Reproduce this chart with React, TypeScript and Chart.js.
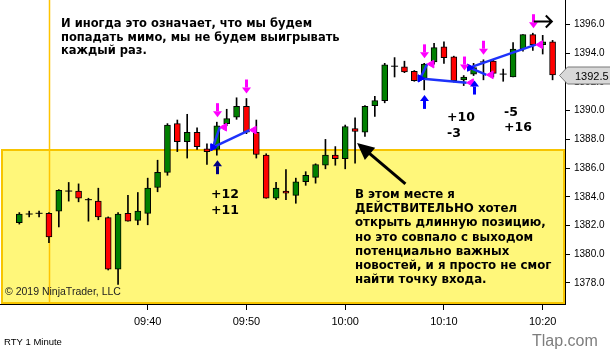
import React, { useEffect, useRef } from "react";
import { Chart, registerables } from "chart.js";

Chart.register(...registerables);

// ---------- data ----------
const candleTimes = [
  "09:27", "09:28", "09:29", "09:30", "09:31", "09:32", "09:33", "09:34", "09:35", "09:36",
  "09:37", "09:38", "09:39", "09:40", "09:41", "09:42", "09:43", "09:44", "09:45", "09:46",
  "09:47", "09:48", "09:49", "09:50", "09:51", "09:52", "09:53", "09:54", "09:55", "09:56",
  "09:57", "09:58", "09:59", "10:00", "10:01", "10:02", "10:03", "10:04", "10:05", "10:06",
  "10:07", "10:08", "10:09", "10:10", "10:11", "10:12", "10:13", "10:14", "10:15", "10:16",
  "10:17", "10:18", "10:19", "10:20", "10:21",
];
const opens = [
  1382.2, 1382.8, 1382.85, 1382.85, 1383.0, 1384.4, 1384.4, 1383.8, 1383.7, 1382.55,
  1378.95, 1382.85, 1382.35, 1382.85, 1384.65, 1385.7, 1389.1, 1387.85, 1388.5, 1387.35,
  1387.3, 1389.1, 1389.55, 1390.3, 1388.5, 1386.9, 1383.9, 1384.4, 1384.1, 1385.05,
  1385.35, 1386.2, 1386.9, 1386.65, 1388.75, 1388.5, 1390.35, 1390.7, 1393.1, 1393.05,
  1392.75, 1392.25, 1393.4, 1394.45, 1393.75, 1392.15, 1392.55, 1393.4, 1393.45, 1392.55,
  1392.35, 1394.3, 1395.3, 1394.6, 1394.8,
];
const highs = [
  1382.9, 1383.0, 1383.0, 1382.9, 1384.5, 1385.0, 1384.9, 1383.9, 1384.6, 1382.6,
  1382.9, 1384.1, 1384.3, 1385.3, 1386.55, 1389.1, 1389.35, 1389.75, 1388.8, 1387.7,
  1389.2, 1390.1, 1390.9, 1390.85, 1389.35, 1387.0, 1385.0, 1385.9, 1385.3, 1385.75,
  1386.3, 1388.0, 1387.5, 1389.0, 1389.5, 1390.35, 1391.0, 1393.3, 1393.7, 1393.45,
  1392.8, 1393.3, 1394.7, 1394.8, 1393.8, 1392.45, 1393.3, 1393.55, 1393.55, 1392.9,
  1394.75, 1395.3, 1395.4, 1395.25, 1394.9,
];
const lows = [
  1382.1, 1382.6, 1382.6, 1380.8, 1381.9, 1383.7, 1383.65, 1382.3, 1382.4, 1378.9,
  1377.9, 1382.3, 1382.05, 1382.05, 1384.35, 1385.5, 1387.15, 1386.7, 1387.3, 1386.25,
  1386.9, 1388.95, 1389.4, 1388.4, 1386.7, 1383.9, 1383.8, 1383.8, 1383.55, 1384.8,
  1384.95, 1385.95, 1386.2, 1385.95, 1386.35, 1388.2, 1389.6, 1390.55, 1392.35, 1392.65,
  1392.05, 1391.45, 1393.25, 1393.3, 1392.0, 1391.75, 1392.45, 1392.15, 1392.35, 1392.05,
  1392.35, 1394.15, 1394.2, 1393.95, 1392.15,
];
const closes = [
  1382.8, 1382.8, 1382.85, 1381.2, 1384.45, 1384.4, 1383.9, 1383.8, 1382.6, 1378.95,
  1382.8, 1382.3, 1383.0, 1384.6, 1385.7, 1389.0, 1387.85, 1388.5, 1387.5, 1387.15,
  1388.95, 1389.45, 1390.3, 1388.5, 1386.95, 1383.9, 1384.6, 1384.25, 1385.05, 1385.5,
  1386.25, 1386.9, 1386.65, 1388.9, 1388.55, 1390.3, 1390.7, 1393.2, 1393.1, 1392.7,
  1392.1, 1393.25, 1394.4, 1393.7, 1392.1, 1392.35, 1393.0, 1393.4, 1392.6, 1392.55,
  1394.3, 1395.3, 1394.6, 1394.8, 1392.5,
];

const yTickValues = [1378, 1380, 1382, 1384, 1386, 1388, 1390, 1392, 1394, 1396];
const xTickLabels = ["09:40", "09:50", "10:00", "10:10", "10:20"];
const sessionOpenTime = "09:30";
const zoneTopPrice = 1387.25;
const lastPrice = 1392.5;

const sellArrowTimes = ["09:47", "09:50", "10:08", "10:12", "10:14", "10:19"];
const buyArrowTimes = ["09:47", "10:08", "10:13"];

const tradeEntryTimes = ["09:47", "09:47", "10:08", "10:08", "10:13", "10:13"];
const tradeEntryPrices = [1387.45, 1387.45, 1392.25, 1392.25, 1393.0, 1393.0];
const tradeExitTimes = ["09:47", "09:50", "10:08", "10:12", "10:14", "10:19"];
const tradeExitPrices = [1388.85, 1388.65, 1393.25, 1391.95, 1392.5, 1394.6];

const pointerTail = { time: 66.1, price: 1384.9 };
const pointerTip = { time: 61.2, price: 1387.75 };

const titleLines = [
  "И иногда это означает, что мы будем",
  "попадать мимо, мы не будем выигрывать",
  "каждый раз.",
];
const noteLines = [
  "В этом месте я",
  "ДЕЙСТВИТЕЛЬНО хотел",
  "открыть длинную позицию,",
  "но это совпало с выходом",
  "потенциально важных",
  "новостей, и я просто не смог",
  "найти точку входа.",
];
const resultLabels = [
  { text: "+12", x: 211, y: 198 },
  { text: "+11", x: 211, y: 214 },
  { text: "+10", x: 447, y: 121 },
  { text: "-3", x: 447, y: 137 },
  { text: "-5", x: 504, y: 116 },
  { text: "+16", x: 504, y: 131 },
];

// ---------- helpers ----------
const toMin = (s: string) => {
  const [h, m] = s.split(":").map(Number);
  return h * 60 + m - 540;
};
const fmtMin = (v: number) => {
  const t = Math.round(v) + 540;
  const h = Math.floor(t / 60);
  const m = t % 60;
  return `${String(h).padStart(2, "0")}:${String(m).padStart(2, "0")}`;
};
const idxOf = (t: string) => candleTimes.indexOf(t);

const GREEN = "rgb(0,128,0)";
const RED = "rgb(255,0,0)";
const MAGENTA = "rgb(255,0,255)";
const BLUE = "rgb(0,0,255)";
const NAVY = "rgb(0,0,128)";
const TRADE_LINE = "rgb(30,50,250)";

const isDoji = (i: number) => Math.abs(opens[i] - closes[i]) < 0.001;

function drawDownArrow(ctx: CanvasRenderingContext2D, cx: number, tipY: number, color: string) {
  const y0 = tipY - 14;
  ctx.fillStyle = color;
  ctx.fillRect(cx - 1.5, y0, 3, 8);
  ctx.beginPath();
  ctx.moveTo(cx - 4.5, y0 + 8);
  ctx.lineTo(cx + 4.5, y0 + 8);
  ctx.lineTo(cx, tipY);
  ctx.closePath();
  ctx.fill();
}
function drawUpArrow(ctx: CanvasRenderingContext2D, cx: number, tipY: number, color: string) {
  ctx.fillStyle = color;
  ctx.beginPath();
  ctx.moveTo(cx, tipY);
  ctx.lineTo(cx + 4.5, tipY + 6);
  ctx.lineTo(cx - 4.5, tipY + 6);
  ctx.closePath();
  ctx.fill();
  ctx.fillRect(cx - 1.5, tipY + 6, 3, 8);
}

const annotationPlugin = {
  id: "tradeAnnotations",
  beforeDatasetsDraw(chart: any) {
    const { ctx, chartArea: ca, scales } = chart;
    const x = scales.x;
    const y = scales.y;
    ctx.save();
    const top = Math.round(y.getPixelForValue(zoneTopPrice));
    ctx.fillStyle = "rgb(255,247,122)";
    ctx.fillRect(ca.left + 2, top, ca.right - ca.left - 3, ca.bottom - top - 1);
    ctx.strokeStyle = "rgb(247,196,0)";
    ctx.lineWidth = 2;
    ctx.strokeRect(ca.left + 2, top, ca.right - ca.left - 3, ca.bottom - top - 1);
    const sx = Math.round(x.getPixelForValue(toMin(sessionOpenTime))) + 0.5;
    ctx.strokeStyle = "rgb(255,196,0)";
    ctx.lineWidth = 1.5;
    ctx.beginPath();
    ctx.moveTo(sx, ca.top);
    ctx.lineTo(sx, ca.bottom - 1);
    ctx.stroke();
    ctx.restore();
  },
  afterDraw(chart: any) {
    const { ctx, chartArea: ca, scales } = chart;
    const x = scales.x;
    const y = scales.y;
    ctx.save();

    // signal arrows
    sellArrowTimes.forEach((t) => {
      const i = idxOf(t);
      const cx = Math.round(x.getPixelForValue(toMin(t))) + 0.5;
      drawDownArrow(ctx, cx, y.getPixelForValue(highs[i]) - 5, MAGENTA);
    });
    buyArrowTimes.forEach((t, k) => {
      const i = idxOf(t);
      const cx = Math.round(x.getPixelForValue(toMin(t))) + 0.5;
      drawUpArrow(ctx, cx, y.getPixelForValue(lows[i]) + 5, k === 0 ? NAVY : BLUE);
    });

    // texts
    ctx.fillStyle = "#000";
    ctx.textBaseline = "alphabetic";
    ctx.textAlign = "left";
    ctx.font = 'bold 11.5px "DejaVu Sans"';
    titleLines.forEach((l, k) => ctx.fillText(l, 61, 27 + k * 13.7));
    ctx.font = 'bold 11.8px "DejaVu Sans"';
    noteLines.forEach((l, k) => ctx.fillText(l, 355, 197.7 + k * 14.27));
    ctx.font = 'bold 12.5px "DejaVu Sans"';
    resultLabels.forEach((r) => ctx.fillText(r.text, r.x, r.y));

    // pointer arrow
    const tx = x.getPixelForValue(pointerTip.time);
    const ty = y.getPixelForValue(pointerTip.price);
    const bx = x.getPixelForValue(pointerTail.time);
    const by = y.getPixelForValue(pointerTail.price);
    const ang = Math.atan2(by - ty, bx - tx);
    const hl = 17;
    const hw = 8;
    ctx.strokeStyle = "#000";
    ctx.lineWidth = 3;
    ctx.beginPath();
    ctx.moveTo(bx, by);
    ctx.lineTo(tx + Math.cos(ang) * (hl - 2), ty + Math.sin(ang) * (hl - 2));
    ctx.stroke();
    ctx.fillStyle = "#000";
    ctx.beginPath();
    ctx.moveTo(tx, ty);
    ctx.lineTo(tx + Math.cos(ang) * hl - Math.sin(ang) * hw, ty + Math.sin(ang) * hl + Math.cos(ang) * hw);
    ctx.lineTo(tx + Math.cos(ang) * hl + Math.sin(ang) * hw, ty + Math.sin(ang) * hl - Math.cos(ang) * hw);
    ctx.closePath();
    ctx.fill();

    // small right arrow at top right
    const ax0 = x.getPixelForValue(toMin("10:19") + 0.1);
    const ax1 = ax0 + 18;
    const ay = 21.5;
    ctx.lineWidth = 2;
    ctx.beginPath();
    ctx.moveTo(ax0, ay);
    ctx.lineTo(ax1, ay);
    ctx.moveTo(ax1 - 6, ay - 6);
    ctx.lineTo(ax1, ay);
    ctx.lineTo(ax1 - 6, ay + 6);
    ctx.stroke();

    // copyright
    ctx.font = '10.5px "Liberation Sans"';
    ctx.fillStyle = "#222";
    ctx.fillText("© 2019 NinjaTrader, LLC", 5, 294.5);

    // last price marker
    const py = Math.round(y.getPixelForValue(lastPrice)) + 0.5;
    ctx.beginPath();
    ctx.moveTo(ca.right - 5.5, py);
    ctx.lineTo(ca.right + 2.5, py - 8.5);
    ctx.lineTo(chart.width + 1, py - 8.5);
    ctx.lineTo(chart.width + 1, py + 8.5);
    ctx.lineTo(ca.right + 2.5, py + 8.5);
    ctx.closePath();
    ctx.fillStyle = "rgb(216,216,216)";
    ctx.fill();
    ctx.strokeStyle = "rgb(120,120,120)";
    ctx.lineWidth = 1;
    ctx.stroke();
    ctx.fillStyle = "#000";
    ctx.font = '11px "Liberation Sans"';
    ctx.fillText(lastPrice.toFixed(1), 575, py + 4);

    // footer texts
    ctx.font = '9.5px "Liberation Sans"';
    ctx.fillStyle = "#000";
    ctx.fillText("RTY 1 Minute", 4, 344.5);
    ctx.font = '16px "Liberation Sans"';
    ctx.fillStyle = "rgb(125,125,125)";
    ctx.fillText("Tlap.com", 532, 346);

    ctx.restore();
  },
};

export default function App() {
  const ref = useRef<HTMLCanvasElement | null>(null);

  useEffect(() => {
    const canvas = ref.current;
    if (!canvas) return;

    const idx = candleTimes.map((_, i) => i);
    const bodyIdx = idx.filter((i) => !isDoji(i));
    const dojiIdx = idx.filter((i) => isDoji(i));

    const tradeLineSets = tradeEntryTimes.map((t, k) => ({
      type: "line" as const,
      data: [
        { x: toMin(t) - 0.4, y: tradeEntryPrices[k] },
        { x: toMin(tradeExitTimes[k]) + 0.3, y: tradeExitPrices[k] },
      ],
      borderColor: TRADE_LINE,
      borderWidth: 2.5,
      pointRadius: 0,
      fill: false,
      order: 1,
    }));

    const chart = new Chart(canvas, {
      type: "bar",
      data: {
        datasets: [
          {
            type: "bar",
            data: bodyIdx.map((i) => ({ x: toMin(candleTimes[i]), y: [opens[i], closes[i]] })),
            backgroundColor: bodyIdx.map((i) => (closes[i] > opens[i] ? GREEN : RED)),
            borderColor: "#000",
            borderWidth: 1,
            borderSkipped: false,
            barThickness: 6,
            grouped: false,
            order: 2,
          } as any,
          {
            type: "scatter",
            data: dojiIdx.map((i) => ({ x: toMin(candleTimes[i]), y: opens[i] })),
            pointStyle: "line",
            pointRadius: 3.5,
            borderColor: "#000",
            borderWidth: 1,
            order: 2,
          } as any,
          {
            type: "bar",
            data: idx.map((i) => ({ x: toMin(candleTimes[i]), y: [lows[i], highs[i]] })),
            backgroundColor: "#000",
            borderWidth: 0,
            barThickness: 1,
            grouped: false,
            order: 3,
          } as any,
          ...tradeLineSets,
          {
            type: "scatter",
            data: tradeEntryTimes.map((t, k) => ({ x: toMin(t) - 0.4, y: tradeEntryPrices[k] })),
            pointStyle: "triangle",
            rotation: 90,
            pointRadius: 4,
            backgroundColor: BLUE,
            borderColor: BLUE,
            borderWidth: 1,
            order: 0,
          } as any,
          {
            type: "scatter",
            data: tradeExitTimes.map((t, k) => ({ x: toMin(t) + 0.75, y: tradeExitPrices[k] })),
            pointStyle: "triangle",
            rotation: -90,
            pointRadius: 4.5,
            backgroundColor: MAGENTA,
            borderColor: MAGENTA,
            borderWidth: 1,
            order: 0,
          } as any,
        ],
      },
      options: {
        responsive: false,
        devicePixelRatio: 1,
        animation: false,
        events: [],
        layout: { padding: 0, autoPadding: false },
        plugins: {
          legend: { display: false },
          tooltip: { enabled: false },
        },
        scales: {
          x: {
            type: "linear",
            min: 25.043,
            max: 82.258,
            offset: false,
            afterBuildTicks: (s: any) => {
              s.ticks = xTickLabels.map((l) => ({ value: toMin(l) }));
            },
            afterFit: (s: any) => {
              s.height = 47;
              s.paddingLeft = 0;
              s.paddingRight = 0;
              s.paddingTop = 0;
              s.paddingBottom = 0;
            },
            ticks: {
              callback: (v: any) => fmtMin(Number(v)),
              font: { family: "Liberation Sans", size: 11 },
              color: "#000",
              maxRotation: 0,
              autoSkip: false,
              padding: 5,
            },
            grid: {
              display: true,
              drawOnChartArea: false,
              drawTicks: true,
              tickLength: 6,
              color: "#000",
              offset: false,
            },
            border: { display: true, color: "#000", width: 1 },
          },
          y: {
            type: "linear",
            position: "right",
            min: 1376.53,
            max: 1397.714,
            afterBuildTicks: (s: any) => {
              s.ticks = yTickValues.map((v) => ({ value: v }));
            },
            afterFit: (s: any) => {
              s.width = 45;
              s.paddingLeft = 0;
              s.paddingRight = 0;
              s.paddingTop = 0;
              s.paddingBottom = 0;
            },
            ticks: {
              callback: (v: any) => Number(v).toFixed(1),
              font: { family: "Liberation Sans", size: 10 },
              color: "#000",
              padding: 4,
              autoSkip: false,
            },
            grid: {
              display: true,
              drawOnChartArea: false,
              drawTicks: true,
              tickLength: 5,
              color: "#000",
            },
            border: { display: true, color: "#000", width: 1 },
          },
        },
      } as any,
      plugins: [annotationPlugin as any],
    });

    return () => chart.destroy();
  }, []);

  return (
    <div style={{ position: "fixed", left: 0, top: 0, width: 610, height: 351, background: "#fff" }}>
      <canvas ref={ref} width={610} height={351} style={{ display: "block", width: 610, height: 351 }} />
    </div>
  );
}
